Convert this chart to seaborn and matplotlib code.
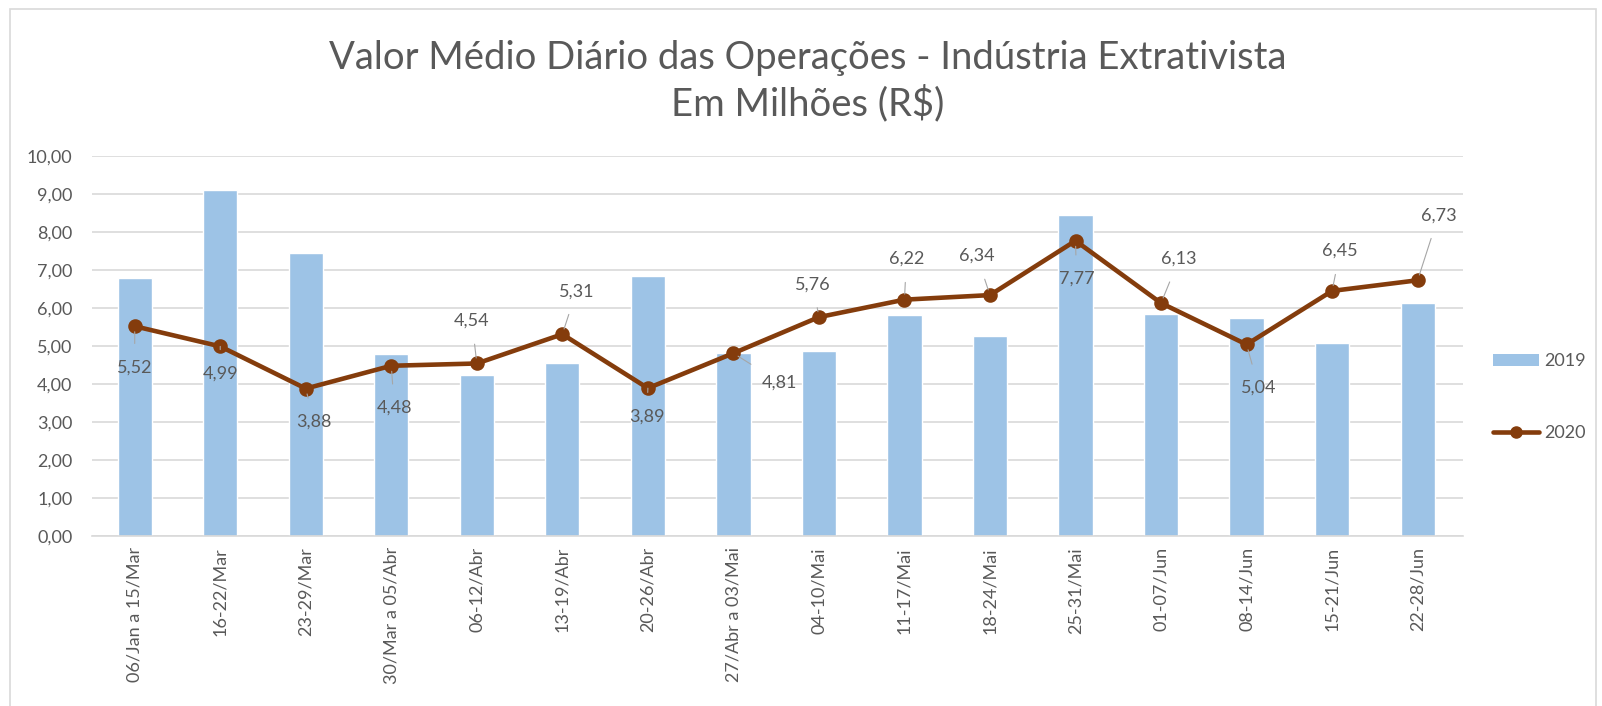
import matplotlib
matplotlib.use("Agg")
import matplotlib.pyplot as plt
import pandas as pd
import seaborn as sns
from matplotlib.lines import Line2D
from matplotlib.patches import Patch, Rectangle

PERIODS = [
    "06/Jan a 15/Mar", "16-22/Mar", "23-29/Mar", "30/Mar a 05/Abr",
    "06-12/Abr", "13-19/Abr", "20-26/Abr", "27/Abr a 03/Mai",
    "04-10/Mai", "11-17/Mai", "18-24/Mai", "25-31/Mai",
    "01-07/Jun", "08-14/Jun", "15-21/Jun", "22-28/Jun",
]
VALUES_2019 = [6.80, 9.11, 7.44, 4.79, 4.25, 4.56, 6.84, 4.81,
               4.88, 5.81, 5.27, 8.46, 5.84, 5.75, 5.07, 6.12]
VALUES_2020 = [5.52, 4.99, 3.88, 4.48, 4.54, 5.31, 3.89, 4.81,
               5.76, 6.22, 6.34, 7.77, 6.13, 5.04, 6.45, 6.73]
# label offset of each 2020 value, in pixels from the point
LABEL_OFFSETS = [(0, -41), (0, -27), (8, -33), (3, -42), (-5, 43), (14, 43),
                 (-1, -28), (46, -29), (-6, 33), (2, 41), (-13, 39), (1, -38),
                 (18, 44), (12, -43), (8, 40), (21, 65)]

BAR_COLOR = "#9dc3e6"
LINE_COLOR = "#843c0c"
TEXT_COLOR = "#595959"

sns.set_theme(style="white")
plt.rcParams["font.family"] = ["Lato", "DejaVu Sans"]

df = pd.DataFrame({"periodo": PERIODS, "v2019": VALUES_2019, "v2020": VALUES_2020})

fig = plt.figure(figsize=(16.02, 7.06), dpi=100)
ax = fig.add_axes([0.0574, 0.2408, 0.8558, 0.5382])

sns.barplot(data=df, x="periodo", y="v2019", order=PERIODS, color=BAR_COLOR,
            saturation=1, width=0.40, ax=ax, zorder=2)
sns.pointplot(data=df, x="periodo", y="v2020", order=PERIODS, color=LINE_COLOR,
              markers="o", markersize=8, linewidth=3.3, ax=ax, zorder=3)

for i, (val, off) in enumerate(zip(VALUES_2020, LABEL_OFFSETS)):
    ax.annotate(f"{val:.2f}".replace(".", ","), xy=(i, val), xytext=off,
                textcoords="offset pixels", ha="center", va="center",
                fontsize=13, color=TEXT_COLOR, zorder=4,
                arrowprops=dict(arrowstyle="-", color="#a6a6a6", lw=0.8,
                                shrinkA=9, shrinkB=4))

ax.set_ylim(0, 10)
ax.set_xlim(-0.5, 15.53)
ax.set_yticks(range(0, 11))
ax.set_yticklabels([f"{v},00" for v in range(0, 11)])
ax.yaxis.grid(True, color="#d9d9d9", lw=1.2, zorder=0)
ax.set_axisbelow(True)
for side in ["top", "right", "left"]:
    ax.spines[side].set_visible(False)
ax.spines["bottom"].set_color("#d9d9d9")
ax.spines["bottom"].set_linewidth(1.2)
ax.tick_params(axis="x", labelrotation=90, labelsize=13, colors=TEXT_COLOR, length=0, pad=8)
ax.tick_params(axis="y", labelsize=13, colors=TEXT_COLOR, length=0, pad=14)
ax.set_xlabel("")
ax.set_ylabel("")

fig.text(0.504, 0.918, "Valor Médio Diário das Operações - Indústria Extrativista",
         ha="center", va="center", fontsize=27.5, color=TEXT_COLOR)
fig.text(0.504, 0.853, "Em Milhões (R$)", ha="center", va="center",
         fontsize=27.5, color=TEXT_COLOR)

handles = [
    Patch(facecolor=BAR_COLOR, edgecolor="none", label="2019"),
    Line2D([0], [0], color=LINE_COLOR, lw=3.3, marker="o", markersize=8, label="2020"),
]
fig.legend(handles=handles, loc="center left", bbox_to_anchor=(0.922, 0.437),
           frameon=False, fontsize=13, labelcolor=TEXT_COLOR, labelspacing=3.1,
           handlelength=2.55, handletextpad=0.25, borderpad=0.4)

fig.patches.append(Rectangle((0.006, -0.01), 0.99, 0.997, transform=fig.transFigure,
                             fill=False, edgecolor="#d9d9d9", lw=1.2))

fig.savefig("out.png", dpi=100)
